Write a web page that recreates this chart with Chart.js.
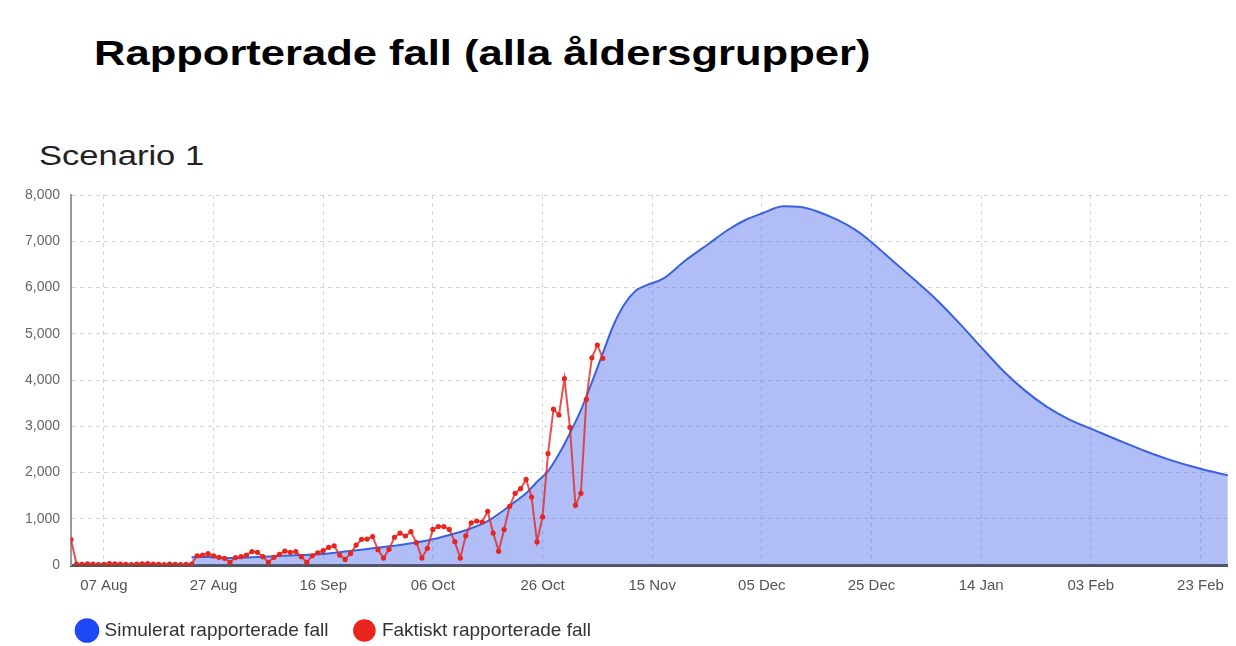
<!DOCTYPE html>
<html>
<head>
<meta charset="utf-8">
<script src="https://cdn.jsdelivr.net/npm/chart.js@4.4.1/dist/chart.umd.min.js"></script>
<style>
  html, body { margin: 0; padding: 0; background: #fff; }
  body { width: 1236px; height: 646px; position: relative; overflow: hidden; font-family: "Liberation Sans", Arial, sans-serif; }
  .wide { position: absolute; white-space: nowrap; transform-origin: 0 0; line-height: 1; margin: 0; }
  #title { left: 94px; top: 35px; font-size: 35px; font-weight: bold; color: #000; }
  #subtitle { left: 39px; top: 143px; font-size: 27px; color: #222; }
  #wrap { position: absolute; left: 0; top: 0; width: 1236px; height: 646px; }
</style>
</head>
<body>
<div id="title" class="wide" data-w="776">Rapporterade fall (alla åldersgrupper)</div>
<div id="subtitle" class="wide" data-w="165">Scenario 1</div>
<div id="wrap"><canvas id="chart" width="1236" height="646"></canvas></div>
<script>
// headings are wider than plain Arial in the source, stretch them to fit
document.querySelectorAll(".wide").forEach(el => {
  const target = Number(el.dataset.w);
  el.style.transform = "scaleX(" + (target / el.offsetWidth) + ")";
});

// x axis = days since 01 Aug
const dayMin = 0;
const dayMax = 211;
const tickDays = [6, 26, 46, 66, 86, 106, 126, 146, 166, 186, 206];
const tickLabels = ["07 Aug", "27 Aug", "16 Sep", "06 Oct", "26 Oct", "15 Nov", "05 Dec", "25 Dec", "14 Jan", "03 Feb", "23 Feb"];

// simulated reported cases (smooth curve)
const simDays = [22, 25, 29, 33, 38, 46, 50, 55, 60, 66, 70, 73, 76, 79, 81, 83, 85, 87, 89, 91,
  93, 95, 97, 99, 101, 103, 105, 108, 112, 116, 120, 123, 126, 130, 133, 136, 140, 143, 146, 150,
  154, 158, 162, 166, 170, 174, 178, 182, 186, 192, 196, 200, 206, 211];
const simCases = [170, 175, 150, 165, 195, 240, 290, 360, 430, 555, 680, 795, 950, 1190, 1370, 1550, 1800, 2030, 2400, 2850,
  3350, 3950, 4580, 5200, 5650, 5930, 6050, 6190, 6580, 6920, 7260, 7460, 7600, 7755, 7740, 7650, 7450, 7250, 6980, 6560,
  6150, 5720, 5230, 4710, 4200, 3770, 3420, 3150, 2950, 2650, 2460, 2290, 2080, 1940];

// actual reported cases, one value per day from day 0
const actualCases = [550, 20, 15, 25, 20, 10, 15, 30, 25, 20, 15, 10, 20, 25, 30, 20, 15, 10, 20, 15,
  10, 15, 20, 200, 215, 245, 200, 165, 145, 60, 160, 180, 215, 290, 275, 180, 60, 165, 230, 300,
  275, 290, 180, 60, 200, 265, 310, 380, 415, 215, 120, 250, 430, 555, 560, 615, 330, 150, 340, 600,
  690, 627, 720, 483, 150, 360, 770, 830, 830, 770, 505, 150, 630, 910, 950, 930, 1160, 690, 300, 765,
  1270, 1550, 1650, 1850, 1470, 500, 1040, 2410, 3370, 3243, 4030, 2977, 1290, 1550, 3582, 4480, 4757, 4468];

const yMax = 8000;
const yStep = 1000;

const colors = {
  simLine: "#3a62dd",
  simFill: "rgba(60, 90, 235, 0.4)",
  simDot: "#1e48f5",
  actLine: "rgba(222, 40, 36, 0.8)",
  actDot: "#e8251f",
  grid: "#d4d4d4",
};

Chart.defaults.font.family = '"Liberation Sans", Arial, sans-serif';

// legend sits further right than the y-axis box allows, nudge it after layout
const legendNudge = {
  id: "legendNudge",
  afterLayout(chart) {
    const lg = chart.legend;
    lg.left += 41;
    lg.right += 41;
    lg.top -= 2;
    lg.bottom -= 2;
  }
};

const ctx = document.getElementById("chart").getContext("2d");
new Chart(ctx, {
  type: "line",
  data: {
    datasets: [
      {
        label: "Simulerat rapporterade fall",
        data: simDays.map((d, i) => ({ x: d, y: simCases[i] })),
        borderColor: colors.simLine,
        backgroundColor: colors.simFill,
        borderWidth: 2,
        fill: "origin",
        pointRadius: 0,
        pointBackgroundColor: colors.simDot,
        pointBorderColor: colors.simDot,
        cubicInterpolationMode: "monotone",
        order: 2
      },
      {
        label: "Faktiskt rapporterade fall",
        data: actualCases.map((v, i) => ({ x: i, y: v })),
        borderColor: colors.actLine,
        borderWidth: 2,
        fill: false,
        tension: 0,
        pointRadius: 2.6,
        pointBorderWidth: 0,
        pointBackgroundColor: colors.actDot,
        pointBorderColor: colors.actDot,
        order: 1
      }
    ]
  },
  plugins: [legendNudge],
  options: {
    responsive: false,
    animation: false,
    layout: { padding: { left: 10, right: 8, top: 195, bottom: -6 } },
    plugins: {
      legend: {
        position: "bottom",
        align: "start",
        labels: {
          usePointStyle: true,
          pointStyle: "circle",
          boxWidth: 16,
          boxHeight: 16,
          padding: 28,
          color: "#333",
          font: { size: 19 },
          sort: (a, b) => a.datasetIndex - b.datasetIndex
        }
      },
      tooltip: { enabled: false }
    },
    scales: {
      x: {
        type: "linear",
        min: dayMin,
        max: dayMax,
        afterBuildTicks: axis => { axis.ticks = tickDays.map(v => ({ value: v })); },
        afterFit: axis => { axis.height = 30; },
        ticks: {
          autoSkip: false,
          maxRotation: 0,
          padding: 12,
          color: "#555",
          font: { size: 15 },
          callback: (value, index) => tickLabels[index]
        },
        grid: { color: colors.grid, drawTicks: false },
        border: { display: true, color: "#555", width: 3, dash: [4, 4] }
      },
      y: {
        min: 0,
        max: yMax,
        afterFit: axis => { axis.width = 61; },
        ticks: { stepSize: yStep, padding: 11, color: "#666", font: { size: 14 } },
        grid: { color: colors.grid, drawTicks: false },
        border: { display: true, color: "#999", width: 2, dash: [4, 4] }
      }
    }
  }
});
</script>
</body>
</html>
